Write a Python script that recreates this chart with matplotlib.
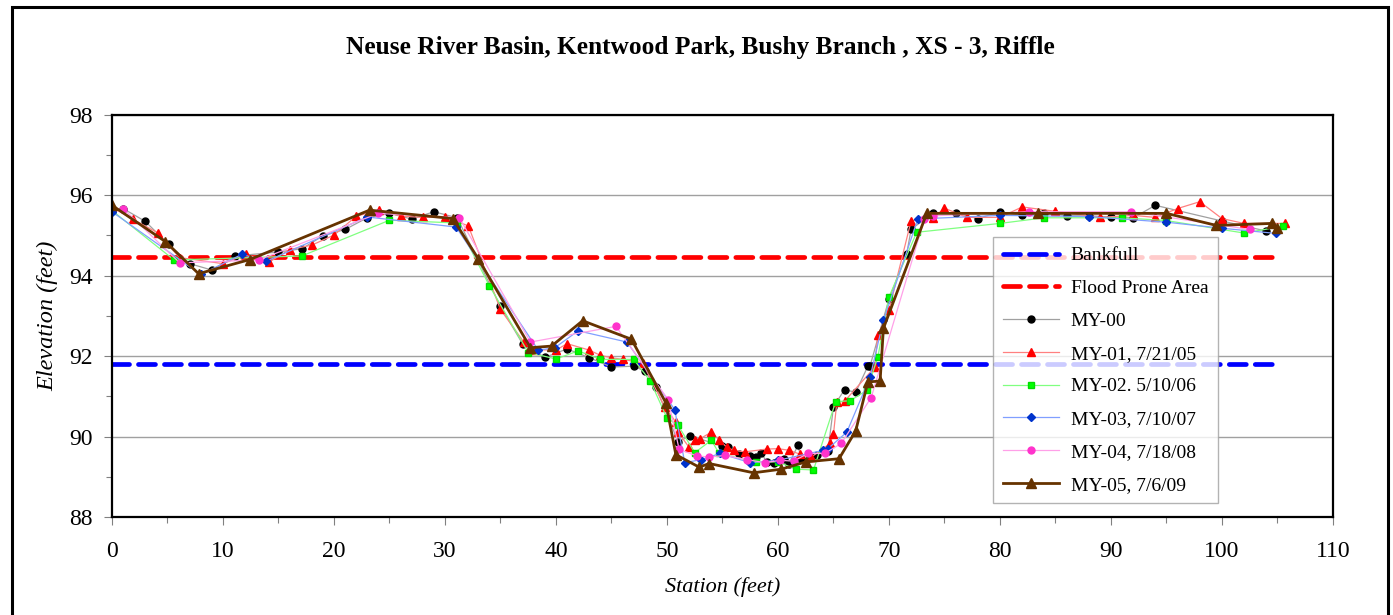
import matplotlib.pyplot as plt
from matplotlib.patches import Rectangle
from matplotlib.ticker import MultipleLocator

plt.rcParams["font.family"] = ["Liberation Serif", "DejaVu Serif"]

BANKFULL = 91.8
FLOOD_PRONE = 94.46
REF_X = [0, 105]

my00_x = [1.0, 3.0, 5.1, 7.0, 9.0, 11.1, 15.0, 17.1, 19.0, 21.0, 23.0, 25.0, 27.0, 29.0, 31.1,
          35.0, 37.0, 39.0, 41.0, 43.0, 45.0, 47.0, 48.0, 49.0, 51.0, 52.1, 55.0, 55.5, 56.5,
          57.5, 58.0, 58.5, 59.0, 59.6, 60.5, 61.0, 61.8, 62.1, 63.0, 63.5, 64.5, 65.0, 66.0,
          67.0, 68.1, 68.3, 70.0, 71.6, 72.0, 74.0, 76.0, 78.0, 80.0, 82.0, 84.0, 86.0, 88.0,
          90.0, 92.0, 94.0, 100.0, 104.0]
my00_y = [95.67, 95.35, 94.78, 94.30, 94.14, 94.49, 94.59, 94.67, 94.99, 95.15, 95.44, 95.55,
          95.41, 95.59, 95.44, 93.24, 92.30, 91.97, 92.18, 91.96, 91.73, 91.75, 91.63, 91.23,
          89.87, 90.02, 89.76, 89.73, 89.56, 89.52, 89.50, 89.58, 89.37, 89.34, 89.45, 89.33,
          89.78, 89.44, 89.49, 89.53, 89.64, 90.74, 91.17, 91.10, 91.75, 91.76, 93.42, 94.55,
          95.16, 95.55, 95.56, 95.42, 95.59, 95.50, 95.56, 95.49, 95.49, 95.46, 95.44, 95.75,
          95.36, 95.11]

my01_x = [0.0, 1.9, 4.1, 6.1, 10.0, 12.1, 14.1, 16.0, 18.0, 20.0, 22.0, 24.1, 26.0, 28.0, 30.0,
          32.1, 35.0, 37.1, 38.1, 40.0, 41.0, 43.0, 44.0, 45.0, 46.0, 47.8, 49.8, 50.8, 51.0,
          52.0, 52.5, 53.0, 54.0, 54.7, 55.4, 56.0, 57.0, 59.0, 60.0, 61.0, 62.0, 63.0, 64.7,
          65.0, 65.3, 66.0, 68.7, 69.0, 70.0, 72.0, 74.0, 75.0, 77.0, 80.0, 82.0, 85.0, 89.0,
          92.0, 94.0, 96.0, 98.0, 100.0, 102.0, 105.7]
my01_y = [95.70, 95.40, 95.07, 94.45, 94.30, 94.53, 94.33, 94.65, 94.76, 95.01, 95.48, 95.63,
          95.48, 95.45, 95.46, 95.24, 93.16, 92.35, 92.16, 92.15, 92.31, 92.15, 92.02, 91.96,
          91.92, 91.83, 90.74, 90.36, 90.11, 89.73, 89.91, 89.95, 90.11, 89.92, 89.73, 89.66,
          89.62, 89.69, 89.70, 89.66, 89.56, 89.49, 89.83, 90.06, 90.85, 90.88, 91.72, 92.52,
          93.14, 95.37, 95.44, 95.68, 95.45, 95.45, 95.71, 95.60, 95.45, 95.50, 95.45, 95.67,
          95.84, 95.42, 95.30, 95.30]

my02_x = [0.0, 5.6, 17.1, 25.0, 31.1, 34.0, 37.5, 40.0, 42.0, 44.0, 47.0, 48.5, 50.0, 51.0,
          52.5, 54.0, 54.7, 58.0, 60.0, 61.6, 63.2, 65.2, 66.5, 68.0, 69.0, 70.0, 72.5, 80.0,
          84.0, 91.0, 95.0, 102.0, 105.5]
my02_y = [95.62, 94.39, 94.49, 95.38, 95.31, 93.75, 92.09, 91.93, 92.13, 91.92, 91.92, 91.38,
          90.46, 90.28, 89.60, 89.91, 89.58, 89.37, 89.37, 89.19, 89.17, 90.87, 90.89, 91.15,
          91.98, 93.47, 95.08, 95.30, 95.44, 95.44, 95.37, 95.06, 95.23]

my03_x = [0.0, 8.0, 11.7, 13.9, 23.0, 31.0, 38.4, 39.9, 42.0, 46.4, 50.7, 51.6, 53.1, 54.8,
          57.5, 60.0, 64.1, 64.5, 66.2, 68.3, 69.5, 72.6, 80.0, 88.0, 95.0, 100.0, 104.9]
my03_y = [95.59, 94.03, 94.53, 94.36, 95.46, 95.21, 92.15, 92.21, 92.63, 92.35, 90.67, 89.35,
          89.43, 89.58, 89.35, 89.41, 89.66, 89.70, 90.11, 91.48, 92.89, 95.41, 95.50, 95.47,
          95.33, 95.18, 95.05]

my04_x = [1.0, 6.1, 13.2, 24.0, 31.3, 37.7, 45.4, 50.1, 51.1, 52.7, 53.8, 55.2, 57.2, 58.8,
          60.2, 61.4, 62.7, 64.2, 65.7, 68.4, 73.2, 74.0, 82.6, 91.8, 102.5]
my04_y = [95.67, 94.32, 94.39, 95.55, 95.44, 92.35, 92.74, 90.92, 89.68, 89.52, 89.49, 89.53,
          89.43, 89.35, 89.41, 89.39, 89.58, 89.58, 89.83, 90.97, 95.42, 95.49, 95.59, 95.59,
          95.15]

my05_x = [0.0, 4.8, 7.8, 12.4, 23.2, 30.7, 33.0, 37.7, 39.6, 42.4, 46.8, 49.9, 50.8, 52.9,
          53.8, 57.8, 60.3, 62.5, 65.5, 67.0, 68.1, 69.2, 69.5, 73.4, 83.4, 95.0, 99.5, 104.5,
          105.0]
my05_y = [95.75, 94.85, 94.05, 94.40, 95.63, 95.42, 94.42, 92.21, 92.25, 92.88, 92.42, 90.84,
          89.55, 89.24, 89.33, 89.10, 89.19, 89.37, 89.45, 90.14, 91.36, 91.38, 92.69, 95.55,
          95.55, 95.55, 95.25, 95.30, 95.19]

fig = plt.figure(figsize=(13.93, 6.15), dpi=100)
ax = fig.add_axes([0.0804, 0.1593, 0.8765, 0.654])

dash = dict(linestyle="--", linewidth=3.4, dashes=(3.6, 1.9), dash_capstyle="round")
ax.plot(REF_X, [BANKFULL, BANKFULL], color="#0000ff", label="Bankfull", **dash)
ax.plot(REF_X, [FLOOD_PRONE, FLOOD_PRONE], color="#ff0000", label="Flood Prone Area", **dash)

ax.plot(my00_x, my00_y, color="#a0a0a0", lw=0.9, marker="o", ms=5, mfc="black", mec="black",
        label="MY-00")
ax.plot(my01_x, my01_y, color="#ff8080", lw=0.9, marker="^", ms=5.5, mfc="#ff0000", mec="#ff0000",
        label="MY-01, 7/21/05")
ax.plot(my02_x, my02_y, color="#80ff80", lw=0.9, marker="s", ms=5, mfc="#00ff00", mec="#00dd00",
        label="MY-02. 5/10/06")
ax.plot(my03_x, my03_y, color="#809fff", lw=0.9, marker="D", ms=3.6, mfc="#0033cc", mec="#0033cc",
        label="MY-03, 7/10/07")
ax.plot(my04_x, my04_y, color="#ffa0e8", lw=0.9, marker="o", ms=5, mfc="#ff33cc", mec="#ff33cc",
        label="MY-04, 7/18/08")
ax.plot(my05_x, my05_y, color="#663300", lw=2.0, marker="^", ms=7.5, mfc="#663300", mec="#663300",
        label="MY-05, 7/6/09")

ax.set_xlim(0, 110)
ax.set_ylim(88, 98)
ax.xaxis.set_major_locator(MultipleLocator(10))
ax.xaxis.set_minor_locator(MultipleLocator(5))
ax.yaxis.set_major_locator(MultipleLocator(2))
ax.yaxis.set_minor_locator(MultipleLocator(1))
ax.tick_params(which="major", direction="out", length=6, width=0.8, color="#808080",
               labelsize=17)
ax.tick_params(axis="x", which="major", pad=11)
ax.tick_params(axis="y", which="major", pad=8)
ax.tick_params(which="minor", direction="out", length=4, width=0.8, color="#808080")
ax.grid(True, axis="y", which="major", color="#a0a0a0", linewidth=1.0)
for side in ax.spines.values():
    side.set_linewidth(1.6)
    side.set_color("black")

ax.set_xlabel("Station (feet)", fontsize=16, style="italic", labelpad=11)
ax.set_ylabel("Elevation (feet)", fontsize=17.5, style="italic", labelpad=8)
fig.text(0.503, 0.923, "Neuse River Basin, Kentwood Park, Bushy Branch , XS - 3, Riffle",
         ha="center", va="center", fontsize=18.3, fontweight="bold")

leg = ax.legend(loc="upper left", bbox_to_anchor=(993 / 1393, 1 - 237 / 615),
                bbox_transform=fig.transFigure, fontsize=14, frameon=True, fancybox=False,
                edgecolor="#a0a0a0", handlelength=2.9, labelspacing=0.78, borderpad=0.5,
                handletextpad=0.6, borderaxespad=0)
leg.get_frame().set_linewidth(1.0)

# outer chart frame
fig.add_artist(Rectangle((12 / 1393, -0.05), 1376 / 1393, 1.05 - 7 / 615, transform=fig.transFigure,
                         fill=False, edgecolor="black", linewidth=2.2, clip_on=False))

fig.savefig("out.png", dpi=100)
